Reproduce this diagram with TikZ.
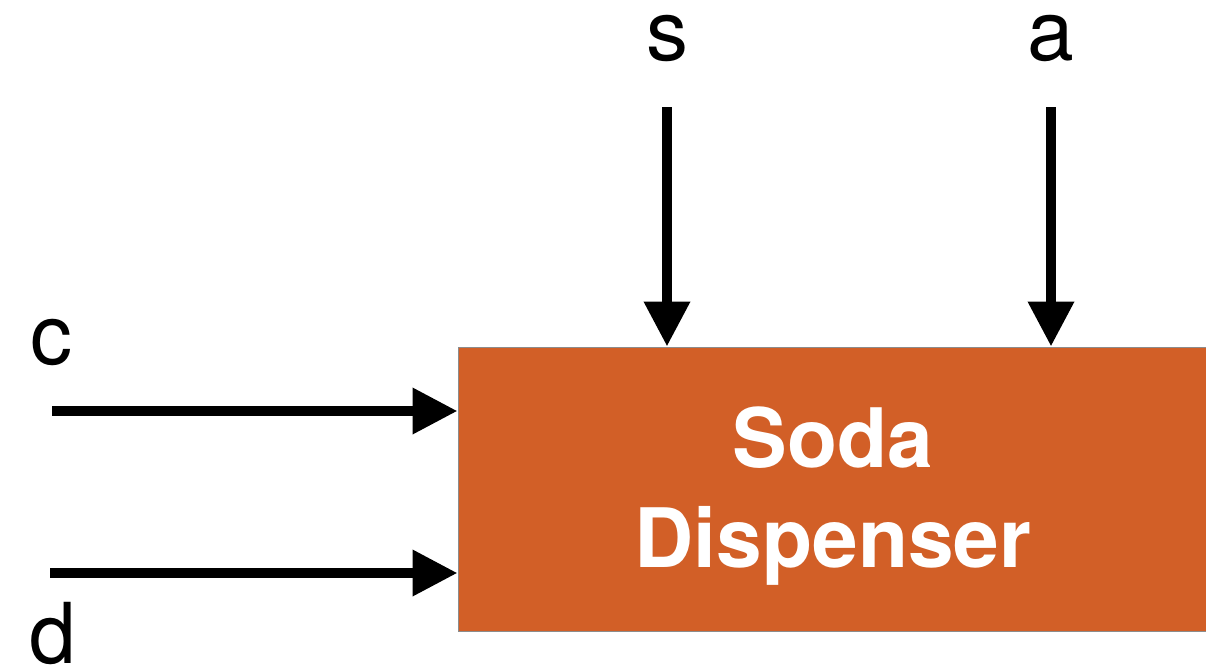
\documentclass[tikz,border=0pt]{standalone}
\usepackage{fontspec}
\setmainfont{TeX Gyre Heros}
\usetikzlibrary{arrows.meta}
\definecolor{sodaorange}{RGB}{210,95,39}
\definecolor{edgegray}{RGB}{140,140,140}
\tikzset{
  sig/.style={line width=10pt, -{Triangle[length=45pt,width=44pt]}},
  siglabel/.style={inner sep=0pt, anchor=base, font=\fontsize{84}{100}\selectfont},
  machine/.style={rectangle, fill=sodaorange, draw=edgegray, line width=1pt,
    minimum width=748pt, minimum height=284pt, inner sep=0pt},
  machinetext/.style={inner sep=0pt, text=white, align=center,
    font=\fontsize{82}{100}\selectfont\bfseries}
}
\begin{document}
\begin{tikzpicture}[x=1pt,y=-1pt]
  \useasboundingbox (0,0) rectangle (1206,667);
  % the dispenser block
  \node[machine] (box) at (832,489) {};
  \node[machinetext] (boxtext) at (833,496) {Soda\\Dispenser};
  % input labels
  \node[siglabel] (ls) at (667,60) {s};
  \node[siglabel] (la) at (1051,60) {a};
  \node[siglabel] (lc) at (51,364) {c};
  \node[siglabel] (ld) at (53,663) {d};
  % free ends of the input wires
  \coordinate (ss) at (667,107);
  \coordinate (sa) at (1051,107);
  \coordinate (sc) at (52,411);
  \coordinate (sd) at (50,573);
  % input wires
  \draw[sig] (ss) -- (ss |- box.north);
  \draw[sig] (sa) -- (sa |- box.north);
  \draw[sig] (sc) -- (box.west |- sc);
  \draw[sig] (sd) -- (box.west |- sd);
\end{tikzpicture}
\end{document}
